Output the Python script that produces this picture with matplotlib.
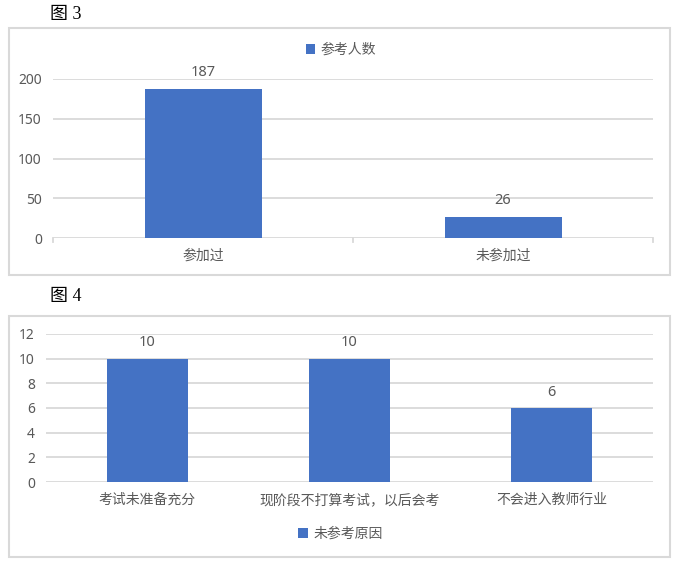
import matplotlib
matplotlib.use("Agg")
import matplotlib.pyplot as plt
from matplotlib.patches import Rectangle

plt.rcParams['font.family'] = ['Noto Sans', 'Noto Sans CJK SC', 'DejaVu Sans']

# fig 3 data
cats3 = ["参加过", "未参加过"]
vals3 = [187, 26]
legend3 = "参考人数"

# fig 4 data
cats4 = ["考试未准备充分", "现阶段不打算考试，以后会考", "不会进入教师行业"]
vals4 = [10, 10, 6]
legend4 = "未参考原因"

W, H = 677, 566
blue = "#4472C4"
grey_txt = "#595959"
grid_c = "#D9D9D9"

fig = plt.figure(figsize=(W / 100, H / 100), dpi=100)


def px_axes(x0, y0, x1, y1):
    # pixel box (top-left origin) -> figure axes
    return fig.add_axes([x0 / W, 1 - y1 / H, (x1 - x0) / W, (y1 - y0) / H])


def frame(x0, y0, x1, y1):
    fig.patches.append(Rectangle((x0 / W, 1 - y1 / H), (x1 - x0) / W, (y1 - y0) / H,
                                 transform=fig.transFigure, fill=False,
                                 edgecolor=grid_c, lw=1.5))


def style(ax, ylim, step):
    ax.set_ylim(0, ylim)
    ax.set_yticks(range(0, ylim + 1, step))
    for s in ax.spines.values():
        s.set_visible(False)
    ax.grid(axis='y', color=grid_c, lw=1.3)
    ax.set_axisbelow(True)
    ax.tick_params(axis='y', length=0, labelsize=10, labelcolor=grey_txt, pad=8)
    ax.tick_params(axis='x', length=0, labelsize=10, labelcolor=grey_txt, pad=8)


cap_font = ['Liberation Serif', 'Noto Sans CJK SC']

# ---- 图 3 ----
fig.text(50 / W, 1 - 14 / H, "图 3", fontsize=13, va='center', ha='left',
         family=cap_font, color='black')
frame(9, 28, 670, 275)
ax1 = px_axes(53, 79, 653, 238)
x1 = range(len(cats3))
b1 = ax1.bar(x1, vals3, width=0.39, color=blue, label=legend3)
ax1.set_xlim(-0.5, len(cats3) - 0.5)
style(ax1, 200, 50)
ax1.set_xticks(list(x1))
ax1.set_xticklabels(cats3)
# category divider ticks
for xv in [-0.5, 0.5, 1.5]:
    ax1.plot([xv, xv], [0, -0.025], transform=ax1.get_xaxis_transform(),
             color=grid_c, lw=1.3, clip_on=False)
ax1.bar_label(b1, padding=7, fontsize=10.5, color=grey_txt)
ax1.legend(loc='center', bbox_to_anchor=(0.48, (238 - 50) / (238 - 79)),
           frameon=False, fontsize=10, labelcolor=grey_txt,
           handlelength=0.7, handleheight=0.7, handletextpad=0.4)

# ---- 图 4 ----
fig.text(50 / W, 1 - 296 / H, "图 4", fontsize=13, va='center', ha='left',
         family=cap_font, color='black')
frame(9, 316, 670, 557)
ax2 = px_axes(46, 334, 653, 482)
x2 = range(len(cats4))
b2 = ax2.bar(x2, vals4, width=0.4, color=blue, label=legend4)
ax2.set_xlim(-0.5, len(cats4) - 0.5)
style(ax2, 12, 2)
ax2.set_xticks(list(x2))
ax2.set_xticklabels(cats4)
ax2.bar_label(b2, padding=6, fontsize=10.5, color=grey_txt)
ax2.legend(loc='center', bbox_to_anchor=(0.485, -(534 - 482) / (482 - 334)),
           frameon=False, fontsize=10, labelcolor=grey_txt,
           handlelength=0.7, handleheight=0.7, handletextpad=0.4)

fig.savefig("out.png", dpi=100)
